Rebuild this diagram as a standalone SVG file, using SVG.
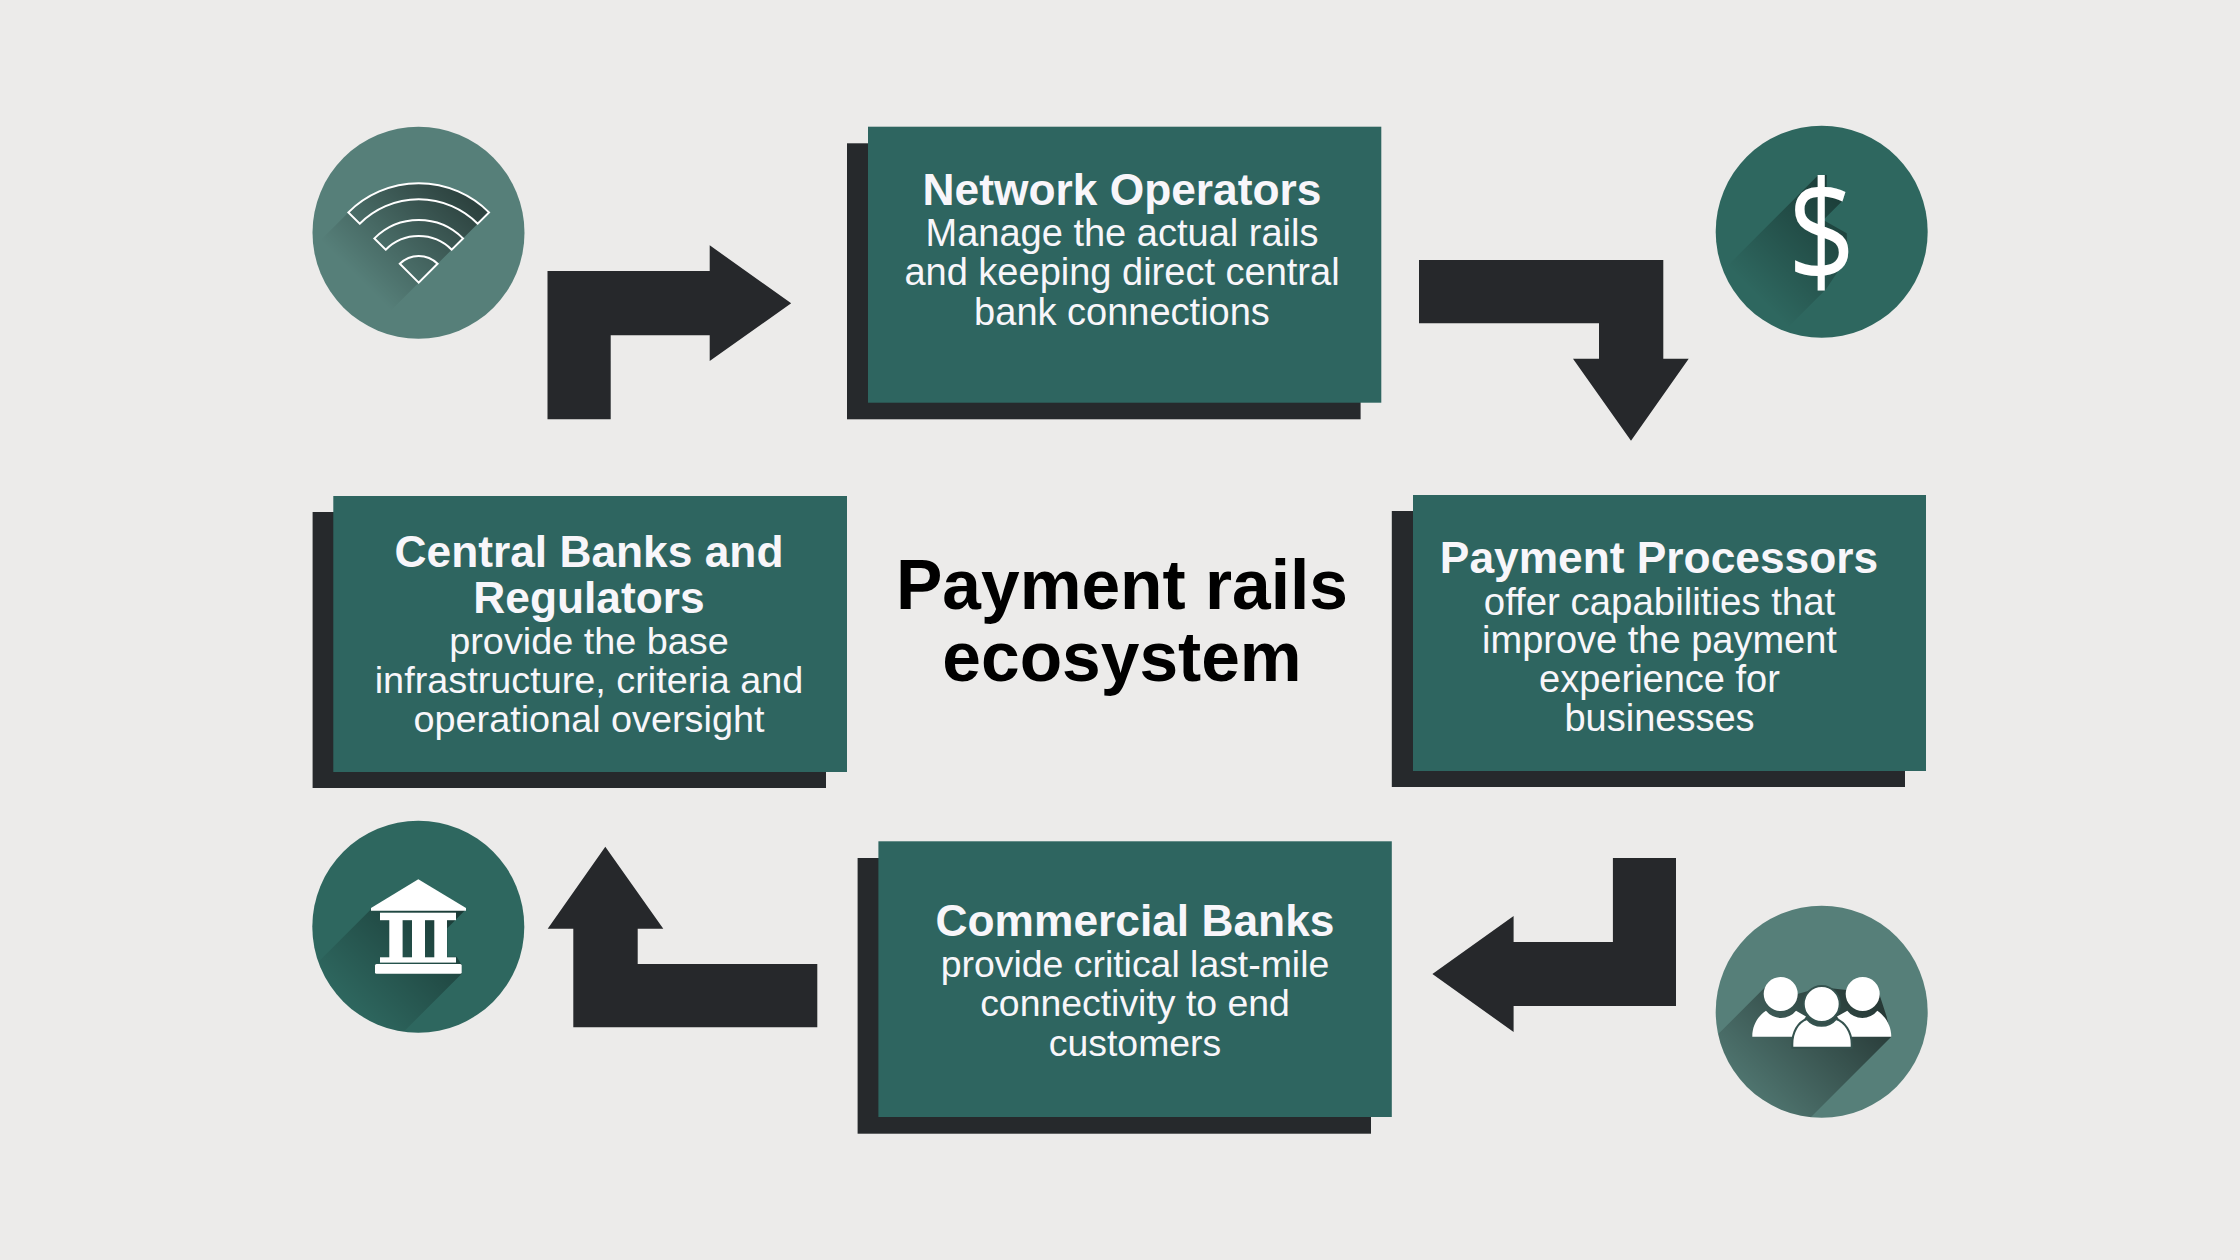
<svg xmlns="http://www.w3.org/2000/svg" width="2240" height="1260" viewBox="0 0 2240 1260">
<style>
.shadow{fill:#26292c}
.box{fill:#2e6560}
.arrow{fill:#26282b}
.dark{fill:#2e675f}
.light{fill:#567f79}
text{font-family:"Liberation Sans",Arial,sans-serif;text-anchor:middle}
.h{font-size:44.3px;font-weight:700;fill:#f8f6fa}
.b{font-size:38px;fill:#f8f6fa}
.t{font-size:69.5px;font-weight:700;fill:#000}
.ic{fill:#fff}
.wifi{fill:none;stroke:#fff;stroke-width:2}
</style>
<defs>
<clipPath id="c1"><circle cx="418.5" cy="232.7" r="106"/></clipPath>
<clipPath id="c2"><circle cx="1821.7" cy="231.7" r="106"/></clipPath>
<clipPath id="c3"><circle cx="418.3" cy="926.7" r="106"/></clipPath>
<clipPath id="c4"><circle cx="1821.7" cy="1011.7" r="106"/></clipPath>
<linearGradient id="g1" gradientUnits="userSpaceOnUse" x1="470" y1="200" x2="375" y2="295"><stop offset="0" stop-color="#000" stop-opacity=".48"/><stop offset="1" stop-color="#000" stop-opacity="0"/></linearGradient>
<linearGradient id="g2" gradientUnits="userSpaceOnUse" x1="1845" y1="195" x2="1750" y2="290"><stop offset="0" stop-color="#000" stop-opacity=".42"/><stop offset="1" stop-color="#000" stop-opacity="0"/></linearGradient>
<linearGradient id="g3" gradientUnits="userSpaceOnUse" x1="470" y1="900" x2="355" y2="1015"><stop offset="0" stop-color="#000" stop-opacity=".48"/><stop offset="1" stop-color="#000" stop-opacity="0"/></linearGradient>
<linearGradient id="g4" gradientUnits="userSpaceOnUse" x1="1880" y1="1010" x2="1755" y2="1135"><stop offset="0" stop-color="#000" stop-opacity=".55"/><stop offset="1" stop-color="#000" stop-opacity="0"/></linearGradient>
</defs>
<rect width="2240" height="1260" fill="#ecebea"/>

<g id="connectors">
<polygon class="arrow" points="547.5,419.3 547.5,271 709.7,271 709.7,245.3 791.2,303.3 709.7,361 709.7,335.3 610.7,335.3 610.7,419.3"/>
<polygon class="arrow" points="1419,260 1663.3,260 1663.3,358.8 1688.7,358.8 1631,440.7 1573,358.8 1599,358.8 1599,323.3 1419,323.3"/>
<polygon class="arrow" points="1676,858 1676,1006 1513.6,1006 1513.6,1032 1432.4,974 1513.6,916 1513.6,942 1612.9,942 1612.9,858"/>
<polygon class="arrow" points="817.3,1027.3 573.3,1027.3 573.3,928.7 547.7,928.7 605.3,846.7 663.3,928.7 637.7,928.7 637.7,964 817.3,964"/>
</g>

<g id="icon-wifi">
<circle class="light" cx="418.5" cy="232.7" r="106"/>
<g clip-path="url(#c1)">
<path fill="url(#g1)" d="M348.4,212.4 A99.4,99.4 0 0 1 489,212.4 L289,412.4 L148.4,412.4 Z"/>
</g>
<path class="wifi" d="M348.4,212.4 A99.4,99.4 0 0 1 489,212.4 L477.7,223.7 A83.4,83.4 0 0 0 359.7,223.7 Z"/>
<path class="wifi" d="M374.4,238.4 A62.7,62.7 0 0 1 463,238.4 L451.7,249.7 A46.7,46.7 0 0 0 385.7,249.7 Z"/>
<path class="wifi" d="M399.8,263.8 A26.7,26.7 0 0 1 437.6,263.8 L418.7,282.7 Z"/>
</g>

<g id="icon-dollar">
<circle class="dark" cx="1821.7" cy="231.7" r="106"/>
<g clip-path="url(#c2)">
<polygon fill="url(#g2)" points="1818.3,175 1826.7,175 1826.7,188.3 1843.3,200 1823.3,220 1846.7,233.3 1847.7,256.7 1826,289.3 1626,489.3 1618.3,375"/>
</g>
<text transform="translate(1821.7 282) scale(.84 1)" style="font-family:'Open Sans','Liberation Sans',sans-serif;font-size:141px;font-weight:400" class="ic">$</text>
</g>

<g id="icon-bank">
<circle class="dark" cx="418.3" cy="926.7" r="106"/>
<g clip-path="url(#c3)">
<polygon fill="url(#g3)" points="371,909.3 466,909.3 447.3,928.3 447.3,956.7 456.7,956.7 461.7,965 461.7,973.7 261.7,1173.7 171,1109.3"/>
</g>
<polygon class="ic" points="418.3,879.3 466,908 466,910.7 371,910.7 371,908"/>
<rect class="ic" x="380" y="912.7" width="76" height="7.5"/>
<rect class="ic" x="389.3" y="920" width="13.3" height="38"/>
<rect class="ic" x="412" y="920" width="13" height="38"/>
<rect class="ic" x="434.3" y="920" width="12.7" height="38"/>
<rect class="ic" x="380" y="957.3" width="76" height="5.3"/>
<rect class="ic" x="375" y="964" width="86.7" height="9.7" rx="1.5"/>
</g>

<g id="icon-people">
<circle class="light" cx="1821.7" cy="1011.7" r="106"/>
<g clip-path="url(#c4)">
<polygon fill="url(#g4)" points="1764,988.3 1780.7,977.3 1797.3,994 1821.7,987.3 1846.7,990 1862.7,977.3 1879.3,994 1886.7,1016.7 1891.3,1036.7 1691.3,1236.7 1564,1188.3"/>
</g>
<path class="ic" d="M1752.3,1036.7 C1752.3,1025 1758,1016 1766,1010.7 A19,19 0 0 0 1796,1010.7 L1806,1016.5 L1792,1036.7 Z"/>
<path class="ic" d="M1891.3,1036.7 C1891.3,1025 1885,1016 1877.3,1010.7 A19,19 0 0 1 1847.3,1010.7 L1837,1016.5 L1851,1036.7 Z"/>
<circle class="ic" cx="1780.7" cy="994" r="17"/>
<circle class="ic" cx="1862.7" cy="994" r="17"/>
<path class="ic" stroke="#35534f" stroke-width="2" d="M1792.3,1047.7 L1792.3,1044 C1792.3,1032 1798,1022 1807,1019 A19,19 0 0 0 1836,1019 C1845,1022 1851.7,1032 1851.7,1044 L1851.7,1047.7 Z"/>
<circle class="ic" stroke="#35534f" stroke-width="2" cx="1821.7" cy="1004" r="18"/>
</g>

<g id="network-operators">
<rect class="shadow" x="847" y="143.3" width="513.6" height="276"/>
<rect class="box" x="868" y="126.7" width="513.3" height="276"/>
<text class="h" x="1122" y="205">Network Operators</text>
<text class="b" x="1122" y="246.4">Manage the actual rails</text>
<text class="b" x="1122" y="285.4">and keeping direct central</text>
<text class="b" x="1122" y="324.7">bank connections</text>
</g>

<g id="payment-processors">
<rect class="shadow" x="1391.8" y="511" width="513.2" height="276"/>
<rect class="box" x="1413" y="495" width="513" height="276"/>
<text class="h" x="1659" y="572.7">Payment Processors</text>
<text class="b" x="1659.5" y="614.7" style="font-size:38.4px">offer capabilities that</text>
<text class="b" x="1659.5" y="653.4">improve the payment</text>
<text class="b" x="1659.5" y="692">experience for</text>
<text class="b" x="1659.5" y="731">businesses</text>
</g>

<g id="commercial-banks">
<rect class="shadow" x="857.6" y="858" width="513.4" height="275.7"/>
<rect class="box" x="878.4" y="841.3" width="513.4" height="275.7"/>
<text class="h" x="1135" y="936">Commercial Banks</text>
<text class="b" x="1135" y="977.4" style="font-size:37.4px">provide critical last-mile</text>
<text class="b" x="1135" y="1016" style="font-size:37.4px">connectivity to end</text>
<text class="b" x="1135" y="1055.7" style="font-size:37.4px">customers</text>
</g>

<g id="central-banks">
<rect class="shadow" x="312.6" y="512" width="513.4" height="276"/>
<rect class="box" x="333.3" y="496" width="513.7" height="276"/>
<text class="h" x="589" y="567.3">Central Banks and</text>
<text class="h" x="589" y="612.7">Regulators</text>
<text class="b" x="589" y="654" style="font-size:37.8px">provide the base</text>
<text class="b" x="589" y="693" style="font-size:37.8px">infrastructure, criteria and</text>
<text class="b" x="589" y="732" style="font-size:37.8px">operational oversight</text>
</g>

<g id="title">
<text class="t" x="1122" y="609.3">Payment rails</text>
<text class="t" x="1122" y="681.3">ecosystem</text>
</g>
</svg>
